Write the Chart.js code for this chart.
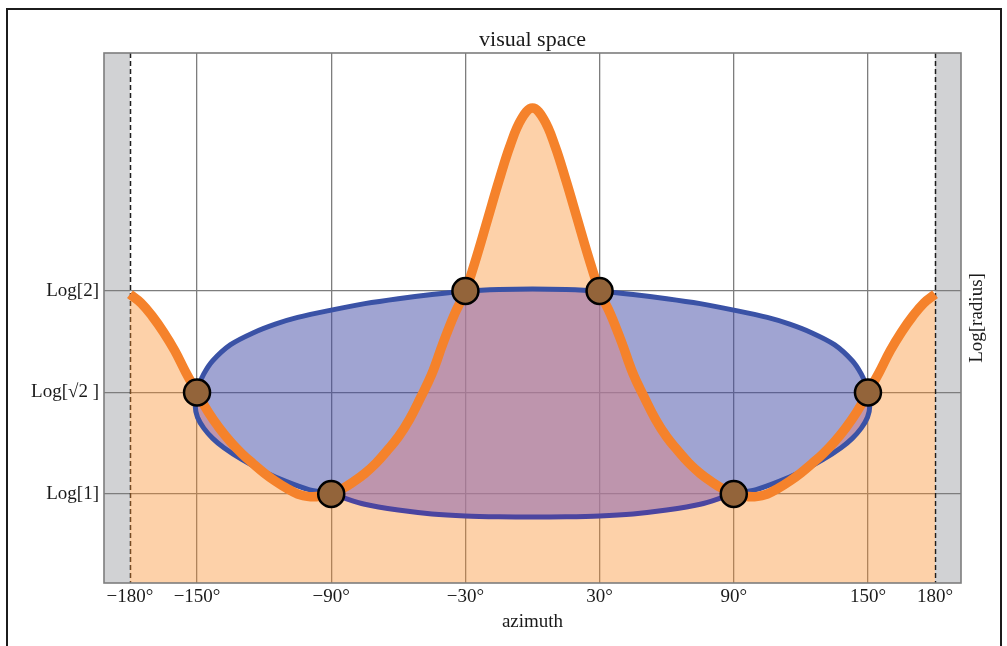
<!DOCTYPE html>
<html>
<head>
<meta charset="utf-8">
<title>visual space</title>
<script src="https://cdn.jsdelivr.net/npm/chart.js@4.4.1/dist/chart.umd.min.js"></script>
<style>
  html, body { margin: 0; padding: 0; background: #fff; overflow: hidden; }
  #wrap { position: relative; width: 1007px; height: 646px; }
  #outer { position: absolute; left: 6px; top: 8px; width: 996px; height: 700px;
           border: 2.5px solid #1c1c1c; box-sizing: border-box; }
  #chart { position: absolute; left: 0; top: 0; }
</style>
</head>
<body>
<div id="wrap">
  <div id="outer"></div>
  <canvas id="chart" width="1007" height="646"></canvas>
</div>
<script>
// orange curve: log radius against azimuth (degrees)
const curveAz = [-180, -175, -170, -165, -160, -155, -150, -145, -140, -135, -130, -125,
                 -120, -115, -110, -105, -100, -95, -90, -85, -80, -75, -70, -65,
                 -60, -55, -50, -45, -40, -35, -30, -25, -20, -15, -10, -5,
                 0, 5, 10, 15, 20, 25, 30, 35, 40, 45, 50, 55,
                 60, 65, 70, 75, 80, 85, 90, 95, 100, 105, 110, 115,
                 120, 125, 130, 135, 140, 145, 150, 155, 160, 165, 170, 175, 180];
const curveLog = [0.682, 0.652, 0.607, 0.553, 0.490, 0.415, 0.347, 0.280, 0.225, 0.178, 0.138, 0.104,
                  0.072, 0.044, 0.020, 0.000, -0.009, -0.008, 0.000, 0.018, 0.042, 0.070, 0.105, 0.148,
                  0.195, 0.255, 0.330, 0.410, 0.515, 0.612, 0.693, 0.810, 0.940, 1.070, 1.190, 1.280,
                  1.318, 1.280, 1.190, 1.070, 0.940, 0.810, 0.693, 0.612, 0.515, 0.410, 0.330, 0.255,
                  0.195, 0.148, 0.105, 0.070, 0.042, 0.018, 0.000, -0.008, -0.009, 0.000, 0.020, 0.044,
                  0.072, 0.104, 0.138, 0.178, 0.225, 0.280, 0.347, 0.415, 0.490, 0.553, 0.607, 0.652, 0.682];

// blue closed shape, upper edge left to right then lower edge back
const shapeAz = [-150, -149, -147, -143, -135, -125, -115, -105, -90, -75, -60, -45, -30, -15,
                 0, 15, 30, 45, 60, 75, 90, 105, 115, 125, 135, 143, 147, 149, 150,
                 150.8, 149.8, 147, 143, 138, 130, 120, 110, 100, 90, 75, 60, 45, 30, 15,
                 0, -15, -30, -45, -60, -75, -90, -100, -110, -120, -130, -138, -143, -147, -149.8, -150.8, -150];
const shapeLog = [0.347, 0.375, 0.410, 0.455, 0.510, 0.550, 0.580, 0.603, 0.628, 0.650, 0.667, 0.681, 0.692, 0.698,
                  0.700, 0.698, 0.692, 0.681, 0.667, 0.650, 0.628, 0.603, 0.580, 0.550, 0.510, 0.455, 0.410, 0.375, 0.347,
                  0.300, 0.262, 0.225, 0.190, 0.158, 0.118, 0.076, 0.042, 0.015, 0.000, -0.035, -0.055, -0.068, -0.075, -0.078,
                  -0.079, -0.078, -0.075, -0.068, -0.055, -0.035, 0.000, 0.015, 0.042, 0.076, 0.118, 0.158, 0.190, 0.225, 0.262, 0.300, 0.347];
const shapeUpperCount = 29;

// crossing markers
const markerAz  = [-150, -90, -30, 30, 90, 150];
const markerLog = [0.3466, 0, 0.6931, 0.6931, 0, 0.3466];

// ticks
const xTickValues = [-180, -150, -90, -30, 30, 90, 150, 180];
const xTickLabels = ['\u2212180\u00b0', '\u2212150\u00b0', '\u221290\u00b0', '\u221230\u00b0', '30\u00b0', '90\u00b0', '150\u00b0', '180\u00b0'];
const yTickValues = [0, 0.3466, 0.6931];
const yTickLabels = ['Log[1]', 'Log[\u221a2 ]', 'Log[2]'];

const xRange = [-191.6, 191.6];
const yRange = [-0.304, 1.506];
const xLimits = [-180, 180];

const FONT = '"Liberation Serif", "DejaVu Serif", serif';
const TEXT = '#1a1a1a';
const GRID = '#7d7d7d';
const BLUE_LINE = '#3a52a6';
const PURPLE_LINE = '#4b45a0';

const toPoints = (xs, ys) => xs.map((x, i) => ({ x, y: ys[i] }));

// dataset indices
const I_POINTS = 0, I_CURVE = 1, I_SHAPE_LINE = 2, I_CURVE_FILL = 3, I_SHAPE_FILL = 4;

// tint for the region where the orange fill overlaps the blue shape
const overlapPlugin = {
    id: 'overlapTint',
    afterDatasetDraw(chart, args) {
        if (args.index !== I_CURVE_FILL) return;
        const ctx = chart.ctx;
        const area = chart.chartArea;
        const shape = chart.getDatasetMeta(I_SHAPE_FILL).dataset;
        const curve = args.meta.dataset;
        const pts = curve.points;
        ctx.save();
        ctx.beginPath();
        ctx.rect(area.left, area.top, area.right - area.left, area.bottom - area.top);
        ctx.clip();
        ctx.beginPath();
        shape.path(ctx);
        ctx.closePath();
        ctx.clip();
        ctx.beginPath();
        curve.path(ctx);
        ctx.lineTo(pts[pts.length - 1].x, area.bottom);
        ctx.lineTo(pts[0].x, area.bottom);
        ctx.closePath();
        ctx.fillStyle = 'rgba(179,140,249,0.3)';
        ctx.fill();
        ctx.restore();
    }
};

// grey bands beyond +-180, dashed limits, frame and right label
const framePlugin = {
    id: 'frame',
    beforeDraw(chart) {
        const ctx = chart.ctx;
        const a = chart.chartArea;
        const xs = chart.scales.x;
        const l = xs.getPixelForValue(xLimits[0]);
        const r = xs.getPixelForValue(xLimits[1]);
        ctx.save();
        ctx.fillStyle = '#d1d2d4';
        ctx.fillRect(a.left, a.top, l - a.left, a.bottom - a.top);
        ctx.fillRect(r, a.top, a.right - r, a.bottom - a.top);
        ctx.restore();
    },
    beforeDatasetsDraw(chart) {
        const ctx = chart.ctx;
        const a = chart.chartArea;
        const xs = chart.scales.x;
        ctx.save();
        ctx.strokeStyle = '#1e1e1e';
        ctx.lineWidth = 1.5;
        ctx.setLineDash([5, 3]);
        xLimits.forEach(v => {
            const px = Math.round(xs.getPixelForValue(v)) + 0.5;
            ctx.beginPath();
            ctx.moveTo(px, a.top);
            ctx.lineTo(px, a.bottom);
            ctx.stroke();
        });
        ctx.restore();
    },
    afterDraw(chart) {
        const ctx = chart.ctx;
        const a = chart.chartArea;
        ctx.save();
        ctx.strokeStyle = GRID;
        ctx.lineWidth = 1.6;
        ctx.strokeRect(a.left, a.top, a.right - a.left, a.bottom - a.top);
        ctx.translate(a.right + 16, (a.top + a.bottom) / 2);
        ctx.rotate(-Math.PI / 2);
        ctx.fillStyle = TEXT;
        ctx.font = '19px ' + FONT;
        ctx.textAlign = 'center';
        ctx.textBaseline = 'middle';
        ctx.fillText('Log[radius]', 0, 0);
        ctx.restore();
    }
};

const ctx = document.getElementById('chart').getContext('2d');
new Chart(ctx, {
    type: 'scatter',
    data: {
        datasets: [{
            label: 'crossings',
            data: toPoints(markerAz, markerLog),
            order: I_POINTS,
            showLine: false,
            pointRadius: 13,
            pointBackgroundColor: '#93643a',
            pointBorderColor: '#000',
            pointBorderWidth: 2.5
        }, {
            label: 'curve',
            data: toPoints(curveAz, curveLog),
            order: I_CURVE,
            showLine: true,
            borderColor: '#f5822b',
            borderWidth: 9.5,
            borderJoinStyle: 'round',
            fill: false,
            pointRadius: 0,
            tension: 0.4
        }, {
            label: 'shape outline',
            data: toPoints(shapeAz, shapeLog),
            order: I_SHAPE_LINE,
            showLine: true,
            borderColor: BLUE_LINE,
            borderWidth: 5,
            borderJoinStyle: 'round',
            fill: false,
            pointRadius: 0,
            tension: 0.3,
            segment: {
                borderColor: c => (c.p0DataIndex >= shapeUpperCount - 1 &&
                    Math.abs(shapeAz[c.p0DataIndex]) <= 90 &&
                    Math.abs(shapeAz[c.p1DataIndex]) <= 90) ? PURPLE_LINE : undefined
            }
        }, {
            label: 'curve area',
            data: toPoints(curveAz, curveLog),
            order: I_CURVE_FILL,
            showLine: true,
            borderWidth: 0,
            borderColor: 'rgba(0,0,0,0)',
            backgroundColor: 'rgba(250,140,40,0.4)',
            fill: 'start',
            pointRadius: 0,
            tension: 0.4
        }, {
            label: 'shape area',
            data: toPoints(shapeAz, shapeLog),
            order: I_SHAPE_FILL,
            showLine: true,
            borderWidth: 0,
            borderColor: 'rgba(0,0,0,0)',
            backgroundColor: 'rgba(65,73,165,0.5)',
            fill: 'shape',
            pointRadius: 0,
            tension: 0.3
        }]
    },
    options: {
        responsive: false,
        animation: false,
        events: [],
        layout: { padding: { left: 0, right: 46, top: 0, bottom: 0 } },
        scales: {
            x: {
                type: 'linear',
                position: 'bottom',
                min: xRange[0],
                max: xRange[1],
                afterBuildTicks: s => { s.ticks = xTickValues.map(v => ({ value: v })); },
                afterFit: s => { s.height = 63; },
                ticks: {
                    autoSkip: false,
                    maxRotation: 0,
                    padding: 3,
                    color: TEXT,
                    font: { family: FONT, size: 19 },
                    callback: v => xTickLabels[xTickValues.indexOf(v)]
                },
                grid: {
                    drawTicks: false,
                    lineWidth: 1.3,
                    color: c => (c.tick && Math.abs(c.tick.value) === 180) ? 'rgba(0,0,0,0)' : GRID
                },
                border: { display: false },
                title: {
                    display: true,
                    text: 'azimuth',
                    color: TEXT,
                    font: { family: FONT, size: 19 },
                    padding: { top: 0, bottom: 13 }
                }
            },
            x2: {
                type: 'linear',
                position: 'top',
                min: xRange[0],
                max: xRange[1],
                afterFit: s => { s.height = 53; },
                ticks: { display: false },
                grid: { display: false, drawTicks: false },
                border: { display: false },
                title: {
                    display: true,
                    text: 'visual space',
                    color: TEXT,
                    font: { family: FONT, size: 22 },
                    padding: { top: 27, bottom: 0 }
                }
            },
            y: {
                type: 'linear',
                position: 'left',
                min: yRange[0],
                max: yRange[1],
                afterBuildTicks: s => { s.ticks = yTickValues.map(v => ({ value: v })); },
                afterFit: s => { s.width = 104; },
                ticks: {
                    padding: 5,
                    color: TEXT,
                    font: { family: FONT, size: 19 },
                    callback: v => yTickLabels[yTickValues.indexOf(v)]
                },
                grid: { drawTicks: false, lineWidth: 1.3, color: GRID },
                border: { display: false }
            }
        },
        plugins: {
            legend: { display: false },
            tooltip: { enabled: false },
            title: { display: false }
        }
    },
    plugins: [overlapPlugin, framePlugin]
});
</script>
</body>
</html>
